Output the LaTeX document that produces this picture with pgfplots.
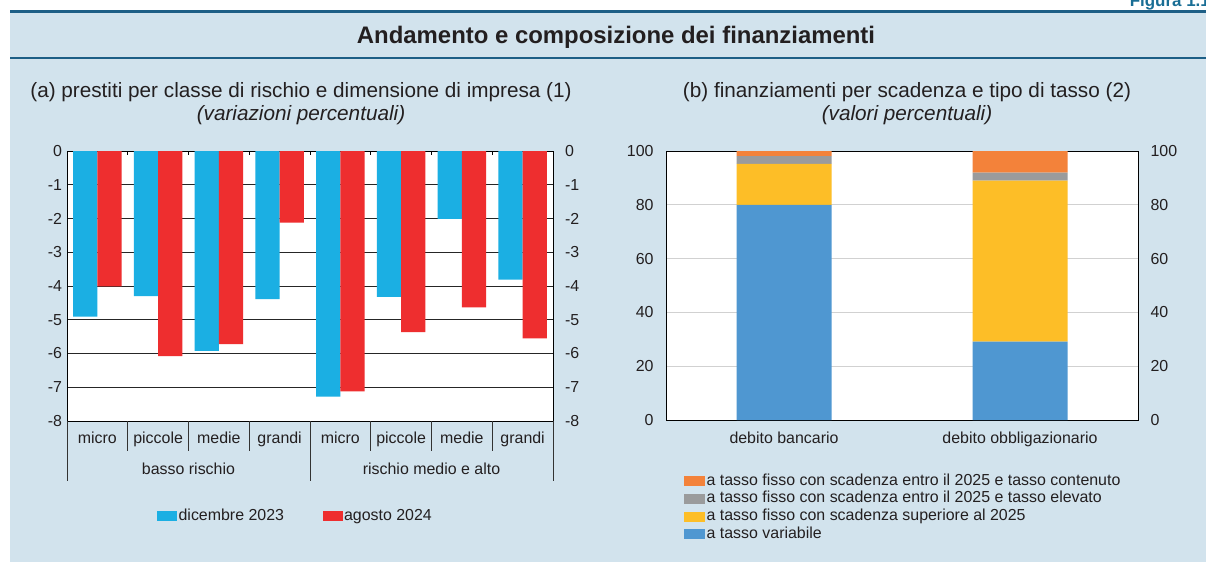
\documentclass[border=0pt]{standalone}
\usepackage{fontspec}
\setmainfont{Liberation Sans}
\usepackage{pgfplots}
\pgfplotsset{compat=1.18}
\definecolor{bgc}{HTML}{D2E3ED}
\definecolor{linec}{HTML}{1D5F86}
\definecolor{figc}{HTML}{1A6E95}
\definecolor{txt}{HTML}{231F20}
\definecolor{cyanb}{HTML}{1BAFE3}
\definecolor{redb}{HTML}{EE2E2F}
\definecolor{varb}{HTML}{4F97D1}
\definecolor{yelb}{HTML}{FDBE27}
\definecolor{grayb}{HTML}{9A9B9C}
\definecolor{orab}{HTML}{F3823A}
\newcommand{\fs}[1]{\fontsize{#1}{#1}\selectfont}
\pgfplotsset{
  common/.style={scale only axis, anchor=north west,
    tick label style={font=\fs{16}, text=txt},
    major tick length=0pt,
    axis line style={black,line width=1bp},
    /pgf/number format/assume math mode=true},
}
\begin{document}
\begin{tikzpicture}
\useasboundingbox (0,0) rectangle (1206bp,-562bp);
\fill[bgc] (10bp,-11bp) rectangle (1206bp,-562bp);
\draw[linec,line width=2.5bp] (10bp,-11.5bp) -- (1206bp,-11.5bp);
\draw[linec,line width=1.3bp] (10bp,-58bp) -- (1206bp,-58bp);
\node[anchor=base east,font=\bfseries\fs{17},text=figc,inner sep=0pt] at (1210bp,-6bp) {Figura 1.1};
\node[anchor=base,font=\bfseries\fs{24},text=txt,inner sep=0pt] at (616bp,-43bp) {Andamento e composizione dei finanziamenti};
\node[anchor=base,font=\fs{20.8},text=txt,inner sep=0pt] at (301bp,-97bp) {(a) prestiti per classe di rischio e dimensione di impresa (1)};
\node[anchor=base,font=\itshape\fs{20.8},text=txt,inner sep=0pt] at (301bp,-120bp) {(variazioni percentuali)};
\node[anchor=base,font=\fs{20.8},text=txt,inner sep=0pt] at (907bp,-97bp) {(b) finanziamenti per scadenza e tipo di tasso (2)};
\node[anchor=base,font=\itshape\fs{20.8},text=txt,inner sep=0pt] at (907bp,-120bp) {(valori percentuali)};

% ---- left panel ----
\begin{axis}[common, at={(67bp,-151bp)}, width=486bp, height=270bp,
  axis background/.style={fill=white},
  xmin=-0.5, xmax=7.5, ymin=-8, ymax=0,
  ybar=0pt, bar width=24.3bp,
  xtick={0,...,7},
  xticklabels={micro,piccole,medie,grandi,micro,piccole,medie,grandi},
  xticklabel style={anchor=base, yshift=-22bp},
  ytick={-8,-7,...,0}, yticklabels={-8,-7,-6,-5,-4,-3,-2,-1,0},
  yticklabel style={xshift=-1.5bp},
  ymajorgrids, grid style={black!85,line width=0.8bp},
  clip=false,
  legend columns=2,
  legend style={draw=none, fill=none, at={(0.185,-0.352)}, anchor=west,
    inner sep=0pt, font=\fs{16}, text=txt,
    nodes={inner xsep=1.5bp, inner ysep=1bp, text height=11.5bp, text depth=3.5bp},
    /tikz/every even column/.append style={column sep=37bp}},
  legend cell align=left,
  legend image code/.code={\fill[#1] (0bp,-5bp) rectangle (20bp,5bp);},
]
\addplot[fill=cyanb,draw=none] coordinates {(0,-4.91) (1,-4.30) (2,-5.92) (3,-4.39) (4,-7.28) (5,-4.32) (6,-2.01) (7,-3.81)};
\addplot[fill=redb,draw=none] coordinates {(0,-4.01) (1,-6.08) (2,-5.72) (3,-2.12) (4,-7.12) (5,-5.37) (6,-4.63) (7,-5.55)};
\legend{dicembre 2023, agosto 2024}
\pgfplotsinvokeforeach{0.5,1.5,2.5,4.5,5.5,6.5}{
  \draw[black!80,line width=0.8bp] (axis cs:#1,-8) -- ([yshift=-30bp]axis cs:#1,-8);
}
\pgfplotsinvokeforeach{0.5,1.5,2.5,3.5,4.5,5.5,6.5}{
  \draw[black,line width=0.8bp] (axis cs:#1,0) -- ([yshift=-4bp]axis cs:#1,0);
}
\pgfplotsinvokeforeach{-0.5,3.5,7.5}{
  \draw[black!80,line width=0.8bp] (axis cs:#1,-8) -- ([yshift=-60bp]axis cs:#1,-8);
}
\node[anchor=base,font=\fs{16},text=txt] at ([yshift=-53bp]axis cs:1.5,-8) {basso rischio};
\node[anchor=base,font=\fs{16},text=txt] at ([yshift=-53bp]axis cs:5.5,-8) {rischio medio e alto};
\end{axis}
\begin{axis}[common, at={(67bp,-151bp)}, width=486bp, height=270bp,
  xmin=-0.5, xmax=7.5, ymin=-8, ymax=0,
  axis y line*=right, axis x line=none,
  ytick={-8,-7,...,0}, yticklabels={-8,-7,-6,-5,-4,-3,-2,-1,0},
  yticklabel style={xshift=8.5bp}]
\addplot[draw=none] coordinates {(0,0)};
\end{axis}

% ---- right panel ----
\begin{axis}[common, at={(666bp,-151bp)}, width=472bp, height=269bp,
  axis background/.style={fill=white},
  xmin=-0.5, xmax=1.5, ymin=0, ymax=100,
  ybar stacked, bar width=95bp,
  xtick={0,1}, xticklabels={debito bancario,debito obbligazionario},
  xticklabel style={anchor=base, yshift=-23bp},
  ytick={0,20,...,100},
  yticklabel style={xshift=-9bp},
  ymajorgrids, grid style={black!18,line width=0.7bp},
  reverse legend,
  legend style={draw=none, fill=none, at={(0.038,-0.194)}, anchor=north west,
    inner sep=0pt, font=\fs{16}, text=txt, row sep=0pt,
    nodes={inner xsep=1.5bp, inner ysep=1.35bp, text height=11.5bp, text depth=3.5bp}},
  legend cell align=left,
  legend image code/.code={\fill[#1] (0bp,-5bp) rectangle (21bp,5bp);},
]
\addplot[fill=varb,draw=none] coordinates {(0,80) (1,29.1)};
\addplot[fill=yelb,draw=none] coordinates {(0,15.2) (1,59.85)};
\addplot[fill=grayb,draw=none] coordinates {(0,2.9) (1,3.05)};
\addplot[fill=orab,draw=none] coordinates {(0,1.9) (1,8.0)};
\legend{a tasso variabile, a tasso fisso con scadenza superiore al 2025, a tasso fisso con scadenza entro il 2025 e tasso elevato, a tasso fisso con scadenza entro il 2025 e tasso contenuto}
\end{axis}
\begin{axis}[common, at={(666bp,-151bp)}, width=472bp, height=269bp,
  xmin=-0.5, xmax=1.5, ymin=0, ymax=100,
  axis y line*=right, axis x line=none,
  ytick={0,20,...,100},
  yticklabel style={xshift=9bp}]
\addplot[draw=none] coordinates {(0,0)};
\end{axis}
\end{tikzpicture}
\end{document}
